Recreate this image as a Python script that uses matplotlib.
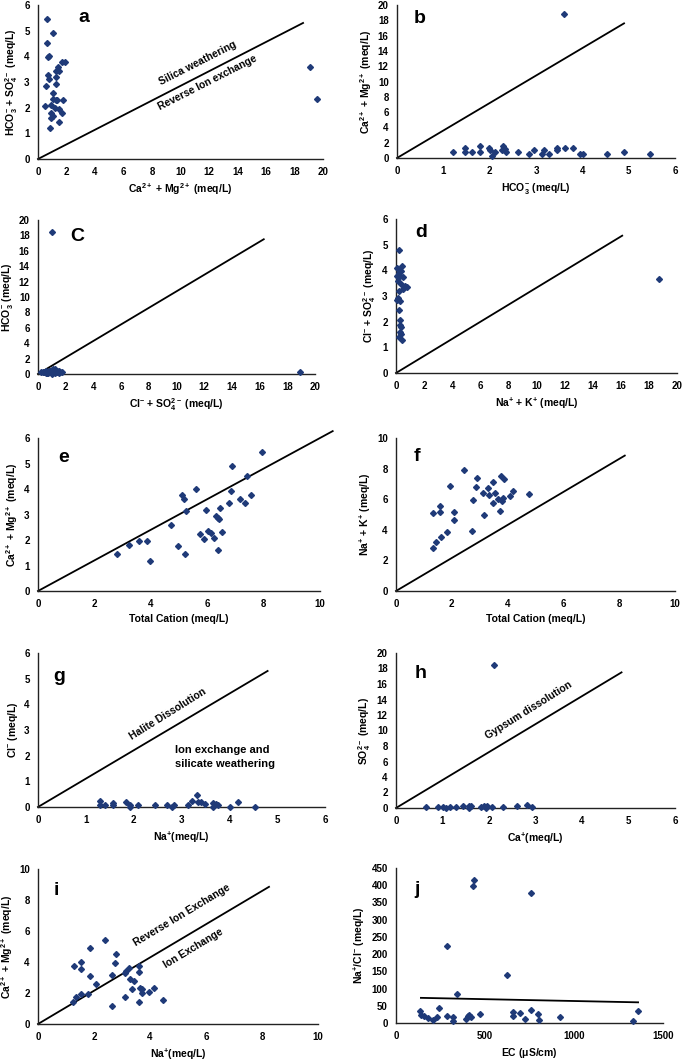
import matplotlib
matplotlib.use("Agg")
import matplotlib.pyplot as plt

plt.rcParams['font.family'] = ['Liberation Sans', 'DejaVu Sans']
plt.rcParams['font.weight'] = 'bold'
plt.rcParams['mathtext.fontset'] = 'custom'
plt.rcParams['mathtext.rm'] = 'Liberation Sans:bold'
plt.rcParams['mathtext.bf'] = 'Liberation Sans:bold'
plt.rcParams['mathtext.it'] = 'Liberation Sans:bold'
plt.rcParams['mathtext.default'] = 'bf'

MARKER_COLOR = '#1f3a78'

# --- DATA ---
# a: Ca+Mg vs HCO3+SO4
a_x = [0.63, 1.05, 0.63, 0.70, 0.77, 0.70, 0.77, 0.54, 0.47, 0.82, 0.94, 0.94, 1.05, 0.89, 1.05, 1.05,
       1.24, 1.17, 1.34, 1.29, 1.29, 1.29, 1.48, 1.43, 1.48, 1.48, 1.71, 1.88, 1.76, 1.71, 19.1, 19.6]
a_y = [5.44, 4.90, 4.51, 3.97, 4.00, 3.28, 3.11, 2.85, 2.05, 1.20, 1.79, 1.60, 1.66, 2.12, 2.59, 2.33,
       2.30, 1.98, 2.28, 3.44, 3.19, 2.93, 3.44, 3.60, 1.94, 1.46, 3.76, 3.76, 2.31, 1.79, 3.60, 2.33]
a_line_x = [0, 18.6]
a_line_y = [0, 5.3]

# b: HCO3 vs Ca+Mg
b_x = [1.21, 1.47, 1.47, 1.62, 1.80, 1.80, 1.98, 2.00, 2.05, 2.12, 2.29, 2.26, 2.33, 2.35, 2.61, 2.85,
       2.95, 3.13, 3.18, 3.28, 3.45, 3.45, 3.63, 3.79, 3.61, 3.94, 4.01, 4.53, 4.91, 5.46]
b_y = [0.74, 1.30, 0.74, 0.74, 1.60, 0.74, 1.30, 1.10, 0.20, 0.74, 1.60, 1.10, 1.20, 0.74, 0.74, 0.52,
       1.00, 0.52, 1.00, 0.52, 1.30, 1.00, 1.30, 1.30, 18.8, 0.52, 0.52, 0.52, 0.74, 0.52]
b_line_x = [0, 4.9]
b_line_y = [0, 17.6]

# c: Cl+SO4 vs HCO3
c_x = [0.25, 0.35, 0.45, 0.55, 0.60, 0.70, 0.75, 0.80, 0.85, 0.90, 0.95, 1.00, 1.05, 1.05, 1.10, 1.15,
       1.20, 1.25, 1.30, 1.35, 1.40, 1.45, 1.50, 1.55, 1.60, 1.70, 0.65, 1.00, 1.20, 1.04, 18.9]
c_y = [0.20, 0.30, 0.25, 0.15, 0.35, 0.30, 0.10, 0.40, 0.20, 0.45, 0.30, 0.55, 0.70, 0.30, 0.50, 0.40,
       0.60, 0.35, 0.25, 0.45, 0.30, 0.20, 0.35, 0.15, 0.25, 0.20, 0.10, 0.05, 0.15, 18.5, 0.30]
c_line_x = [0, 16.3]
c_line_y = [0, 17.5]

# d: Na+K vs Cl+SO4
d_x = [0.24, 0.10, 0.40, 0.24, 0.36, 0.10, 0.29, 0.52, 0.17, 0.36, 0.64, 0.76, 0.48, 0.24, 0.05, 0.17,
       0.29, 0.24, 0.29, 0.29, 0.36, 0.29, 0.36, 0.19, 0.40, 18.7]
d_y = [4.78, 4.09, 4.18, 3.90, 3.96, 3.77, 3.77, 3.73, 3.57, 3.48, 3.38, 3.35, 3.27, 3.18, 2.86, 2.92,
       2.79, 2.44, 2.08, 1.88, 1.79, 1.58, 1.53, 1.40, 1.30, 3.66]
d_line_x = [0, 16.1]
d_line_y = [0, 5.35]

# e: Total cation vs Ca+Mg
e_x = [2.80, 3.22, 3.57, 3.85, 3.96, 4.71, 4.98, 5.09, 5.18, 5.24, 5.23, 5.60, 5.74, 5.88, 5.95, 6.03,
       6.12, 6.24, 6.31, 6.39, 6.43, 6.39, 6.45, 6.54, 6.76, 6.83, 6.89, 7.16, 7.34, 7.42, 7.55, 7.95]
e_y = [1.44, 1.79, 1.95, 1.95, 1.19, 2.60, 1.76, 3.75, 3.59, 3.12, 1.46, 3.99, 2.25, 2.03, 3.16, 2.34,
       2.29, 2.08, 2.94, 2.86, 2.84, 1.59, 3.27, 2.31, 3.44, 3.92, 4.90, 3.62, 3.44, 4.51, 3.78, 5.45]
e_line_x = [0, 10.45]
e_line_y = [0, 6.27]

# f: Total cation vs Na+K
f_x = [1.31, 1.34, 1.42, 1.58, 1.58, 1.60, 1.84, 1.94, 2.09, 2.09, 2.45, 2.71, 2.76, 2.85, 2.89, 3.13,
       3.17, 3.30, 3.34, 3.49, 3.47, 3.55, 3.66, 3.73, 3.75, 3.82, 3.81, 3.87, 4.09, 4.18, 4.78]
f_y = [5.07, 2.78, 3.17, 5.54, 5.17, 3.54, 3.83, 6.85, 5.17, 4.67, 7.89, 3.91, 5.93, 6.80, 7.41, 6.43,
       4.96, 6.74, 6.30, 7.11, 5.72, 6.41, 6.00, 5.22, 7.52, 6.09, 5.87, 7.33, 6.22, 6.52, 6.37]
f_line_x = [0, 8.2]
f_line_y = [0, 8.85]

# g: Na vs Cl
g_x = [1.29, 1.29, 1.40, 1.57, 1.57, 1.84, 1.92, 1.92, 2.09, 2.44, 2.69, 2.80, 2.84, 3.13, 3.22, 3.32,
       3.34, 3.41, 3.49, 3.66, 3.66, 3.72, 3.76, 4.01, 4.19, 4.53]
g_y = [0.23, 0.06, 0.06, 0.16, 0.06, 0.19, 0.06, 0.00, 0.06, 0.08, 0.08, 0.00, 0.08, 0.06, 0.22, 0.48,
       0.18, 0.18, 0.13, 0.16, 0.00, 0.12, 0.09, 0.00, 0.18, 0.00]
g_line_x = [0, 4.8]
g_line_y = [0, 5.3]

# h: Ca vs SO4
h_x = [2.11, 0.65, 0.91, 1.02, 1.08, 1.16, 1.30, 1.45, 1.56, 1.58, 1.61, 1.82, 1.89, 1.93, 1.96, 2.06,
       2.31, 2.61, 2.82, 2.92]
h_y = [18.5, 0.13, 0.13, 0.13, 0.00, 0.13, 0.13, 0.26, 0.26, 0.04, 0.26, 0.17, 0.22, 0.04, 0.22, 0.17,
       0.13, 0.22, 0.43, 0.13]
h_line_x = [0, 4.85]
h_line_y = [0, 17.5]

# i: Na vs Ca+Mg
i_x = [1.25, 1.35, 1.28, 1.53, 1.53, 1.53, 1.79, 1.87, 1.87, 2.06, 2.40, 2.66, 2.66, 2.74, 2.78, 3.10,
       3.10, 3.16, 3.25, 3.28, 3.37, 3.44, 3.61, 3.61, 3.61, 3.64, 3.70, 3.73, 3.97, 4.14, 4.47]
i_y = [1.40, 1.77, 3.75, 3.97, 3.56, 1.94, 1.94, 4.89, 3.10, 2.59, 5.43, 1.16, 3.15, 3.92, 4.50, 3.32,
       1.77, 3.45, 3.60, 2.89, 2.24, 2.80, 3.75, 3.38, 1.40, 2.31, 2.03, 2.24, 2.07, 2.31, 1.55]
i_line_x = [0, 8.25]
i_line_y = [0, 8.85]

# j: EC vs Na/Cl
j_x = [135, 140, 157, 181, 206, 232, 243, 284, 284, 318, 318, 340, 393, 406, 410, 423, 434, 440, 471,
       626, 658, 658, 696, 727, 761, 761, 798, 802, 924, 1332, 1360]
j_y = [36, 22, 21, 15, 10, 17, 45, 225, 21, 17, 6, 85, 13, 19, 24, 17, 397, 416, 27,
       139, 32, 19, 29, 13, 38, 376, 27, 8, 16, 5, 36]
j_line_x = [140, 1360]
j_line_y = [73, 60]

CA_MG = r'Ca$^{2+}$ + Mg$^{2+}$ (meq/L)'
HCO3 = r'HCO$_3^{-}$'
SO4 = r'SO$_4^{2-}$'

panels = [
    # letter, x, y, line x, line y, xlim, xticks, ylim, yticks, xlabel, ylabel, rect (px), letter pos
    ('a', a_x, a_y, a_line_x, a_line_y, 20, range(0, 21, 2), 6, range(0, 7),
     CA_MG, HCO3 + ' + ' + SO4 + ' (meq/L)', [38, 5, 323, 159], (0.16, 0.92)),
    ('b', b_x, b_y, b_line_x, b_line_y, 6, range(0, 7), 20, range(0, 21, 2),
     HCO3 + ' (meq/L)', CA_MG, [397, 5, 675, 158], (0.08, 0.915)),
    ('C', c_x, c_y, c_line_x, c_line_y, 20, range(0, 21, 2), 20, range(0, 21, 2),
     r'Cl$^{-}$ + ' + SO4 + ' (meq/L)', HCO3 + ' (meq/L)', [38, 220, 315, 374], (0.14, 0.89)),
    ('d', d_x, d_y, d_line_x, d_line_y, 20, range(0, 21, 2), 6, range(0, 7),
     r'Na$^{+}$ + K$^{+}$ (meq/L)', r'Cl$^{-}$ + ' + SO4 + ' (meq/L)', [396, 219, 677, 373], (0.09, 0.91)),
    ('e', e_x, e_y, e_line_x, e_line_y, 10, range(0, 11, 2), 6, range(0, 7),
     'Total Cation (meq/L)', CA_MG, [38, 438, 320, 591], (0.09, 0.875)),
    ('f', f_x, f_y, f_line_x, f_line_y, 10, range(0, 11, 2), 10, range(0, 11, 2),
     'Total Cation (meq/L)', r'Na$^{+}$ + K$^{+}$ (meq/L)', [396, 438, 675, 591], (0.075, 0.88)),
    ('g', g_x, g_y, g_line_x, g_line_y, 6, range(0, 7), 6, range(0, 7),
     r'Na$^{+}$(meq/L)', r'Cl$^{-}$ (meq/L)', [38, 653, 325, 807], (0.075, 0.85)),
    ('h', h_x, h_y, h_line_x, h_line_y, 6, range(0, 7), 20, range(0, 21, 2),
     r'Ca$^{+}$(meq/L)', SO4 + ' (meq/L)', [396, 653, 675, 808], (0.09, 0.87)),
    ('i', i_x, i_y, i_line_x, i_line_y, 10, range(0, 11, 2), 10, range(0, 11, 2),
     r'Na$^{+}$(meq/L)', CA_MG, [38, 869, 318, 1024], (0.064, 0.86)),
    ('j', j_x, j_y, j_line_x, j_line_y, 1500, range(0, 1501, 500), 450, range(0, 451, 50),
     r'EC ($\mu$S/cm)', r'Na$^{+}$/Cl$^{-}$ (meq/L)', [396, 868, 663, 1023], (0.08, 0.86)),
]

W, H = 685, 1062
fig = plt.figure(figsize=(W / 100, H / 100), dpi=100)
axes = {}

for (letter, x, y, lx, ly, xmax, xt, ymax, yt, xlab, ylab, rect, lpos) in panels:
    l, t, r, b = rect
    ax = fig.add_axes([l / W, 1 - b / H, (r - l) / W, (b - t) / H])
    ax.plot(lx, ly, color='black', lw=1.3, clip_on=False, zorder=2)
    ax.plot(x, y, linestyle='none', marker='D', ms=3.0, color=MARKER_COLOR,
            clip_on=False, zorder=3)
    ax.set_xlim(0, xmax)
    ax.set_ylim(0, ymax)
    ax.set_xticks(list(xt))
    ax.set_yticks(list(yt))
    ax.tick_params(length=0, labelsize=7, pad=6)
    for lab in ax.get_xticklabels() + ax.get_yticklabels():
        lab.set_fontweight('bold')
    ax.spines['top'].set_visible(False)
    ax.spines['right'].set_visible(False)
    for s in ('left', 'bottom'):
        ax.spines[s].set_linewidth(1.0)
        ax.spines[s].set_color('#222222')
    ax.set_xlabel(xlab, fontsize=7.5, fontweight='bold', labelpad=3)
    ax.set_ylabel(ylab, fontsize=7.5, fontweight='bold', labelpad=3)
    ax.text(lpos[0], lpos[1], letter, transform=ax.transAxes, fontsize=14,
            fontweight='bold', ha='center', va='center')
    axes[letter] = ax

# annotations
ann = dict(fontsize=7.5, fontweight='bold', ha='center', va='center', rotation_mode='anchor')
axes['a'].text(11.2, 3.74, 'Silica weathering', rotation=27, **ann)
axes['a'].text(11.9, 2.96, 'Reverse Ion exchange', rotation=27, **ann)
axes['g'].text(2.72, 3.62, 'Halite Dissolution', rotation=32, **ann)
axes['g'].text(2.87, 1.95, 'Ion exchange and\nsilicate weathering', fontsize=8,
               fontweight='bold', ha='left', va='center', linespacing=1.6)
axes['h'].text(2.86, 12.6, 'Gypsum dissolution', rotation=32, **ann)
axes['i'].text(5.14, 7.0, 'Reverse Ion Exchange', rotation=31, **ann)
axes['i'].text(5.54, 4.9, 'Ion Exchange', rotation=31, **ann)

fig.savefig('out.png', dpi=100)
